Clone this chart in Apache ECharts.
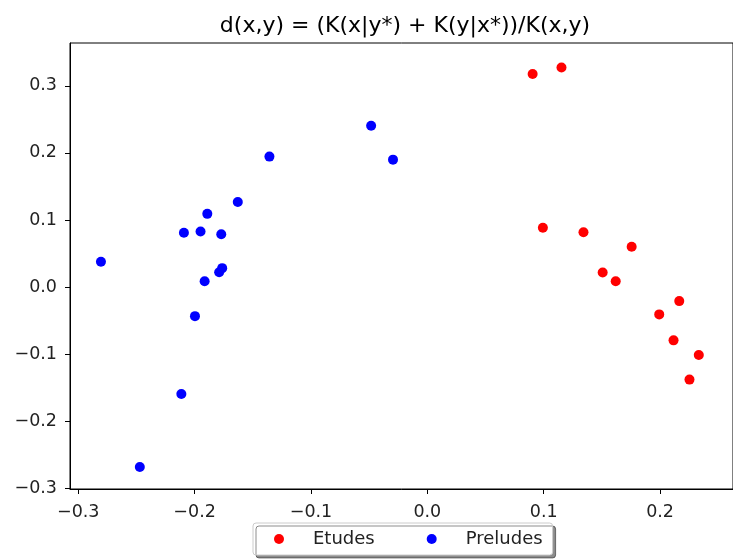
<!DOCTYPE html>
<html>
<head>
<meta charset="utf-8">
<script src="https://cdn.jsdelivr.net/npm/echarts@6/dist/echarts.min.js"></script>
<style>html,body{margin:0;padding:0;background:#fff;}#c{width:733px;height:559px;}</style>
</head>
<body>
<div id="c"></div>
<script>
const titleText = 'd(x,y) = (K(x|y*) + K(y|x*))/K(x,y)';
const seriesNames = ['Etudes', 'Preludes'];
const etudesX = [0.0905, 0.1153, 0.0993, 0.1342, 0.1756, 0.1507, 0.1619, 0.2165, 0.1993, 0.2116, 0.2333, 0.2253];
const etudesY = [0.3176, 0.3274, 0.0884, 0.0818, 0.0601, 0.0219, 0.0089, -0.0208, -0.0406, -0.0793, -0.1012, -0.1378];
const preludesX = [-0.2805, -0.2471, -0.2114, -0.2092, -0.1949, -0.1771, -0.1891, -0.1629, -0.1763, -0.1789, -0.1914, -0.1997, -0.1357, -0.0483, -0.0295];
const preludesY = [0.0378, -0.2679, -0.1592, 0.0810, 0.0829, 0.0789, 0.1092, 0.1270, 0.0283, 0.0223, 0.0089, -0.0432, 0.1945, 0.2406, 0.1900];
const xTicks = [-0.3, -0.2, -0.1, 0.0, 0.1, 0.2];
const yTicks = [-0.3, -0.2, -0.1, 0.0, 0.1, 0.2, 0.3];

const pair = (xs, ys) => xs.map((x, i) => [x, ys[i]]);
const fmt = v => (v < -1e-9 ? '\u2212' : '') + Math.abs(v).toFixed(1);
const FONT = 'DejaVu Sans';

const chart = echarts.init(document.getElementById('c'), null, {renderer: 'canvas'});
chart.setOption({
  animation: false,
  backgroundColor: '#fff',
  title: {
    text: titleText,
    left: 400, top: 10, textAlign: 'center',
    textStyle: {fontFamily: FONT, fontSize: 22, fontWeight: 'normal', color: '#000'}
  },
  grid: {
    left: 70, top: 43, right: -2, bottom: 70,
    show: true, borderColor: '#000', borderWidth: 1, backgroundColor: 'transparent'
  },
  xAxis: {
    type: 'value', min: -0.3071, max: 0.2627,
    splitLine: {show: false},
    axisLine: {show: true, onZero: false, lineStyle: {color: '#000', width: 1}},
    axisTick: {show: true, inside: false, length: 5, lineStyle: {color: '#000'}, customValues: xTicks},
    axisLabel: {show: true, margin: 14, customValues: xTicks, formatter: fmt, fontFamily: FONT, fontSize: 17.5, color: '#222'}
  },
  yAxis: {
    type: 'value', min: -0.3008, max: 0.3638,
    splitLine: {show: false},
    axisLine: {show: true, onZero: false, lineStyle: {color: '#000', width: 1}},
    axisTick: {show: true, inside: false, length: 5, lineStyle: {color: '#000'}, customValues: yTicks},
    axisLabel: {show: true, margin: 13, customValues: yTicks, formatter: fmt, fontFamily: FONT, fontSize: 17.5, color: '#222'}
  },
  legend: {
    data: seriesNames,
    left: 253, top: 523,
    orient: 'horizontal',
    padding: [7, 10, 7, 21],
    itemWidth: 10, itemHeight: 10, itemGap: 52,
    icon: 'circle',
    backgroundColor: '#fff',
    borderColor: '#ccc', borderWidth: 1, borderRadius: 3,
    shadowColor: 'rgba(0,0,0,0.45)', shadowOffsetX: 3, shadowOffsetY: 3, shadowBlur: 0,
    textStyle: {fontFamily: FONT, fontSize: 18, color: '#222', padding: [0, 0, 0, 24]}
  },
  series: [
    {name: seriesNames[0], type: 'scatter', data: pair(etudesX, etudesY), symbolSize: 10, itemStyle: {color: '#ff0000', opacity: 1}},
    {name: seriesNames[1], type: 'scatter', data: pair(preludesX, preludesY), symbolSize: 10, itemStyle: {color: '#0000ff', opacity: 1}}
  ]
});
</script>
</body>
</html>
